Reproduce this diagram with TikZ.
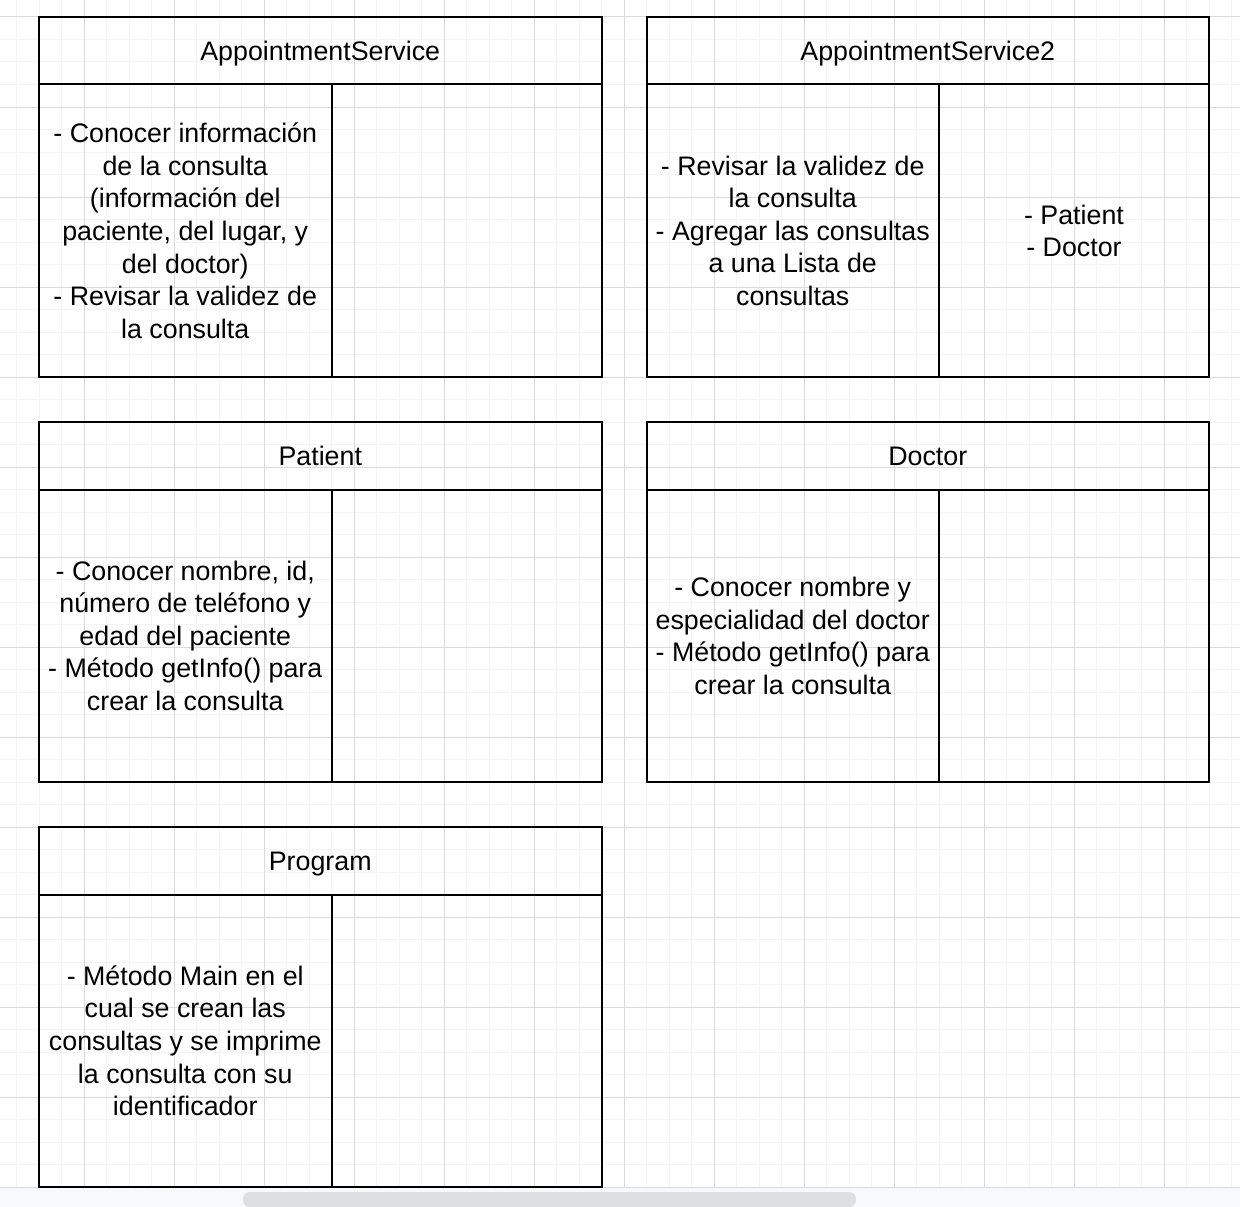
\documentclass[tikz,border=0pt]{standalone}
\usepackage{fontspec}
\setmainfont{Liberation Sans}
\usetikzlibrary{positioning}

\definecolor{gridminor}{HTML}{F4F4F4}
\definecolor{gridmajor}{HTML}{DADADA}
\definecolor{barback}{HTML}{F8F9FA}
\definecolor{barthumb}{HTML}{DEDFE1}

\tikzset{
  cardtext/.style={font=\fontsize{26.8pt}{32.6pt}\selectfont, align=center, inner sep=0pt, outer sep=0pt},
  cardtitle/.style={cardtext, draw, line width=2pt, minimum width=562.5pt, minimum height=67.5pt, text height=19.2pt, text depth=0pt, anchor=north west},
  cardresp/.style={cardtext, draw, line width=2pt, minimum width=292.5pt, minimum height=292.5pt, anchor=north west},
  cardcollab/.style={cardtext, draw, line width=2pt, minimum width=270pt, minimum height=292.5pt, anchor=north west},
}

\begin{document}
\begin{tikzpicture}[x=1pt,y=-1pt]
    \useasboundingbox (0,0) rectangle (1240,1207);
    \fill[white] (0,0) rectangle (1240,1207);

    % grid
    \foreach \k in {0,...,54}
        \draw[gridminor, line width=1pt] ({16.5+22.5*\k},0) -- ({16.5+22.5*\k},1188);
    \foreach \k in {0,...,52}
        \draw[gridminor, line width=1pt] (0,{17+22.5*\k}) -- (1240,{17+22.5*\k});
    \foreach \k in {0,...,12}
        \draw[gridmajor, line width=1pt] ({84+90*\k},0) -- ({84+90*\k},1188);
    \foreach \k in {0,...,13}
        \draw[gridmajor, line width=1pt] (0,{17+90*\k}) -- (1240,{17+90*\k});

    % scroll bar
    \fill[barback] (0,1188) rectangle (1240,1207);
    \fill[barthumb, rounded corners=7pt] (243,1192) rectangle (856,1207);

    % AppointmentService
    \node[cardtitle] (asTitle) at (39,17) {AppointmentService};
    \node[cardresp] (asResp) at (asTitle.south west) {- Conocer información\\de la consulta\\(información del\\paciente, del lugar, y\\del doctor)\\- Revisar la validez de\\la consulta};
    \node[cardcollab] (asCollab) at (asResp.north east) {};

    % AppointmentService2
    \node[cardtitle] (as2Title) at (646.5,17) {AppointmentService2};
    \node[cardresp] (as2Resp) at (as2Title.south west) {- Revisar la validez de\\la consulta\\- Agregar las consultas\\a una Lista de\\consultas};
    \node[cardcollab] (as2Collab) at (as2Resp.north east) {- Patient\\- Doctor};

    % Patient
    \node[cardtitle] (patTitle) at (39,422) {Patient};
    \node[cardresp] (patResp) at (patTitle.south west) {- Conocer nombre, id,\\número de teléfono y\\edad del paciente\\- Método getInfo() para\\crear la consulta};
    \node[cardcollab] (patCollab) at (patResp.north east) {};

    % Doctor
    \node[cardtitle] (docTitle) at (646.5,422) {Doctor};
    \node[cardresp] (docResp) at (docTitle.south west) {- Conocer nombre y\\especialidad del doctor\\- Método getInfo() para\\crear la consulta};
    \node[cardcollab] (docCollab) at (docResp.north east) {};

    % Program
    \node[cardtitle] (progTitle) at (39,827) {Program};
    \node[cardresp] (progResp) at (progTitle.south west) {- Método Main en el\\cual se crean las\\consultas y se imprime\\la consulta con su\\identificador};
    \node[cardcollab] (progCollab) at (progResp.north east) {};
\end{tikzpicture}
\end{document}
